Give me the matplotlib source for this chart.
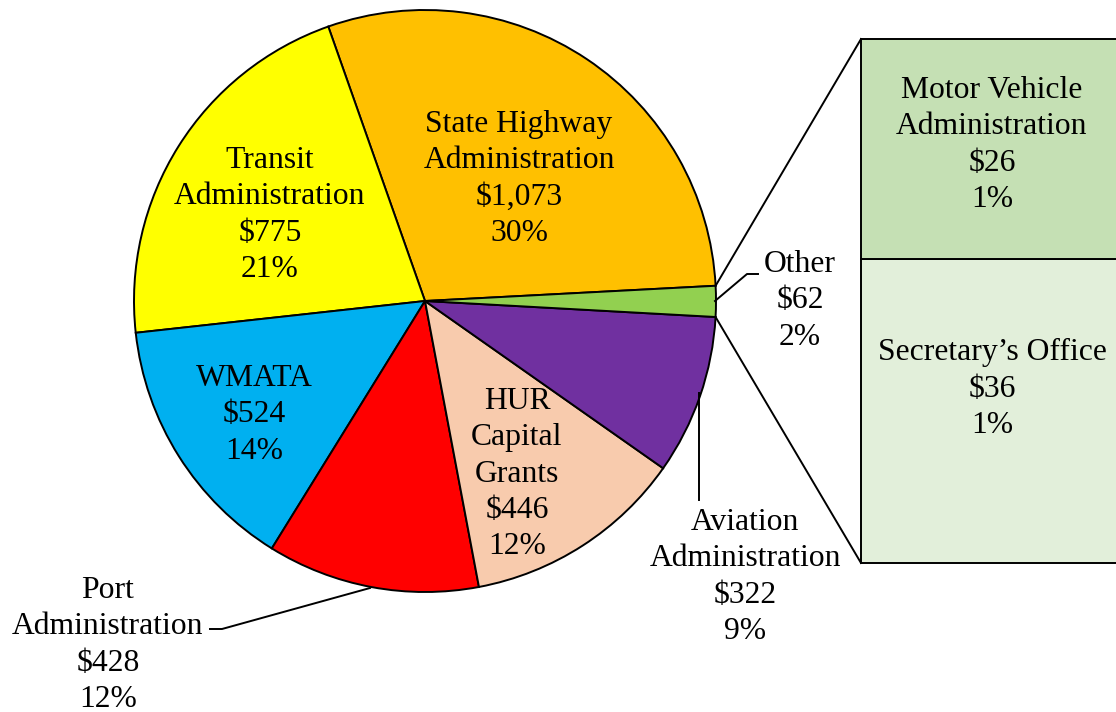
import numpy as np
import matplotlib
matplotlib.use("Agg")
import matplotlib.pyplot as plt

plt.rcParams['font.family'] = ['Liberation Serif', 'DejaVu Serif']

# pie slices, counterclockwise from the right
names = ["State Highway\nAdministration", "Transit\nAdministration", "WMATA",
         "Port\nAdministration", "HUR\nCapital\nGrants", "Aviation\nAdministration", "Other"]
amounts = [1073, 775, 524, 428, 446, 322, 62]
pcts = ["30%", "21%", "14%", "12%", "12%", "9%", "2%"]
colors = ["#ffc000", "#ffff00", "#00b0f0", "#ff0000", "#f8cbad", "#7030a0", "#92d050"]

# breakdown of "Other"
other_names = ["Secretary\u2019s Office", "Motor Vehicle\nAdministration"]
other_amounts = [36, 26]
other_pcts = ["1%", "1%"]
other_colors = ["#e2efda", "#c5e0b4"]

W, H = 1116, 712
fig = plt.figure(figsize=(W / 100, H / 100), dpi=100)
ax = fig.add_axes([0, 0, 1, 1])

def Y(y):
    return H - y

cx, cy, r = 425, Y(301), 291
wedges, _ = ax.pie(amounts, colors=colors, startangle=3, counterclock=True,
                   center=(cx, cy), radius=r,
                   wedgeprops=dict(edgecolor="black", linewidth=1.4))

# stacked bar for "Other"
bx, bw = 861, 300
btop, bbot = Y(39), Y(563)
scale = (btop - bbot) / sum(other_amounts)
bottom = bbot
for amt, c in zip(other_amounts, other_colors):
    ax.bar(bx, amt * scale, bottom=bottom, width=bw, align="edge", color=c,
           edgecolor="black", linewidth=1.4)
    bottom += amt * scale

# connector lines from the Other slice to the bar
oth = wedges[-1]
for ang, by in [(oth.theta2, btop), (oth.theta1, bbot)]:
    px = cx + r * np.cos(np.radians(ang))
    py = cy + r * np.sin(np.radians(ang))
    ax.plot([px, bx], [py, by], color="black", lw=1.4)

fs = 22.8
ls = 1.34

def lab(i):
    return "%s\n$%s\n%s" % (names[i], format(amounts[i], ","), pcts[i])

# labels inside
ax.text(519, Y(179), lab(0), ha="center", va="center", fontsize=fs, linespacing=ls)
ax.text(270, Y(215), lab(1), ha="center", va="center", fontsize=fs, linespacing=ls)
ax.text(254, Y(415), lab(2), ha="center", va="center", fontsize=fs, linespacing=ls)
ax.text(517, Y(474), lab(4), ha="center", va="center", fontsize=fs, linespacing=ls)

# labels outside with leader lines
ax.text(108, Y(645), lab(3), ha="center", va="center", fontsize=fs, linespacing=ls)
ax.plot([370, 222, 210], [Y(588), Y(629), Y(629)], color="black", lw=1.4)

ax.text(745, Y(577), lab(5), ha="center", va="center", fontsize=fs, linespacing=ls)
ax.plot([699, 699], [Y(393), Y(500)], color="black", lw=1.4)

ax.text(800, Y(301), lab(6), ha="center", va="center", fontsize=fs, linespacing=ls)
ax.plot([715, 747, 758], [Y(301), Y(274), Y(274)], color="black", lw=1.4)

# bar labels
ax.text(992, Y(389), "%s\n$%d\n%s" % (other_names[0], other_amounts[0], other_pcts[0]),
        ha="center", va="center", fontsize=fs, linespacing=ls)
ax.text(992, Y(145), "%s\n$%d\n%s" % (other_names[1], other_amounts[1], other_pcts[1]),
        ha="center", va="center", fontsize=fs, linespacing=ls)

ax.set_xlim(0, W)
ax.set_ylim(0, H)
ax.set_aspect("equal")
ax.axis("off")
fig.savefig("out.png", dpi=100)
